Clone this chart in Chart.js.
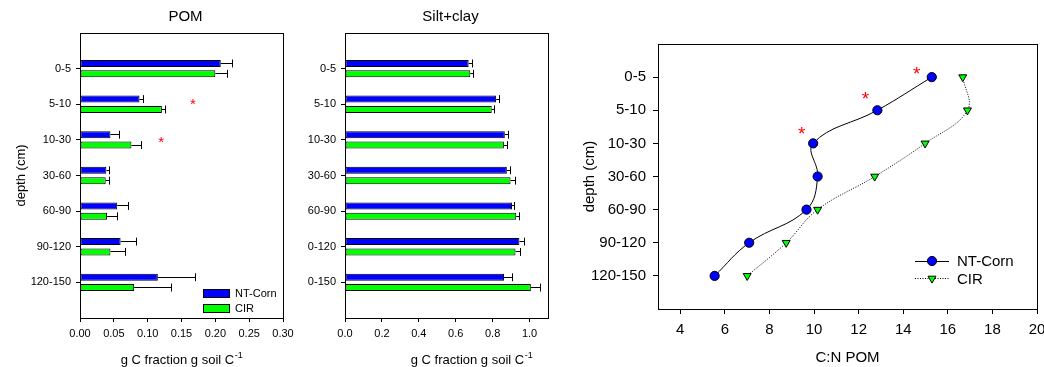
<!DOCTYPE html>
<html>
<head>
<meta charset="utf-8">
<script src="https://cdn.jsdelivr.net/npm/chart.js@4.4.1/dist/chart.umd.min.js"></script>
<style>
  html, body { margin: 0; padding: 0; background: #fff; overflow: hidden; }
  body { width: 1044px; height: 367px; position: relative; }
  canvas { position: absolute; top: 0; }
  #pom { left: 0; }
  #silt { left: 300px; }
  #cn { left: 560px; }
</style>
</head>
<body>
<canvas id="pom" width="300" height="367"></canvas>
<canvas id="silt" width="260" height="367"></canvas>
<canvas id="cn" width="500" height="367"></canvas>
<script>
// depth classes (silt panel labels are printed truncated in the original)
const depths = ["0-5", "5-10", "10-30", "30-60", "60-90", "90-120", "120-150"];
const siltDepths = ["0-5", "5-10", "10-30", "30-60", "60-90", "0-120", "0-150"];

// POM fraction
const pomNT = [0.208, 0.088, 0.045, 0.039, 0.055, 0.060, 0.115];
const pomNTErr = [0.017, 0.006, 0.014, 0.005, 0.016, 0.023, 0.055];
const pomCIR = [0.200, 0.121, 0.076, 0.038, 0.040, 0.045, 0.080];
const pomCIRErr = [0.018, 0.005, 0.015, 0.005, 0.016, 0.022, 0.055];
const pomTicks = [0, 0.05, 0.10, 0.15, 0.20, 0.25, 0.30];
const pomStars = [[0.167, 0.93], [0.12, 2.0]];

// silt+clay fraction
const siltNT = [0.670, 0.819, 0.866, 0.877, 0.905, 0.945, 0.862];
const siltNTErr = [0.020, 0.017, 0.018, 0.022, 0.015, 0.028, 0.047];
const siltCIR = [0.679, 0.795, 0.861, 0.897, 0.928, 0.924, 1.007];
const siltCIRErr = [0.020, 0.015, 0.020, 0.028, 0.018, 0.028, 0.050];
const siltTicks = [0, 0.2, 0.4, 0.6, 0.8, 1.0];

// C:N of POM
const cnNT = [15.28, 12.84, 9.96, 10.16, 9.66, 7.09, 5.54];
const cnCIR = [16.67, 16.88, 14.98, 12.72, 10.16, 8.75, 7.00];
const cnTicks = [4, 6, 8, 10, 12, 14, 16, 18, 20];
const cnStars = [[14.6, -0.17], [12.31, 0.58], [9.44, 1.64]];

const BLUE = "#0000ff";
const GREEN = "#00ff00";
const FONT = '"Liberation Sans", Arial, sans-serif';

Chart.defaults.font.family = FONT;
Chart.defaults.color = "#000";

const pad = (arr) => [null, ...arr, null];
const align = (p) => Math.round(p - 0.5) + 0.5;

function drawStar(ctx, x, y, size) {
  ctx.font = `${size}px ${FONT}`;
  ctx.fillStyle = "#ff0000";
  ctx.textAlign = "center";
  ctx.textBaseline = "alphabetic";
  ctx.fillText("*", x, y + size * 0.46);
}

const deco = {
  id: "deco",
  afterDatasetsDraw(chart, args, o) {
    if (!o.errors) return;
    const ctx = chart.ctx;
    const xs = chart.scales.x;
    ctx.save();
    ctx.strokeStyle = "#000";
    ctx.lineWidth = 1;
    o.errors.forEach((errs, i) => {
      const ds = chart.data.datasets[i];
      chart.getDatasetMeta(i).data.forEach((bar, j) => {
        const v = ds.data[j];
        const e = errs[j];
        if (v == null || e == null) return;
        const { x, y, height } = bar.getProps(["x", "y", "height"], true);
        const xe = align(xs.getPixelForValue(v + e));
        const ym = align(y);
        ctx.beginPath();
        ctx.moveTo(x, ym);
        ctx.lineTo(xe, ym);
        ctx.moveTo(xe, y - height / 2 - 0.5);
        ctx.lineTo(xe, y + height / 2 + 0.5);
        ctx.stroke();
      });
    });
    ctx.restore();
  },
  afterDraw(chart, args, o) {
    const { ctx, chartArea: a } = chart;
    ctx.save();
    ctx.strokeStyle = "#000";
    ctx.lineWidth = 1;
    const l = align(a.left), r = align(a.right), t = align(a.top), b = align(a.bottom);
    ctx.strokeRect(l, t, r - l, b - t);

    ctx.fillStyle = "#000";
    if (o.title) {
      ctx.font = `15px ${FONT}`;
      ctx.textAlign = "center";
      ctx.textBaseline = "middle";
      ctx.fillText(o.title.text, (a.left + a.right) / 2 + o.title.dx, o.title.y);
    }

    if (o.xTitle) {
      const t0 = o.xTitle;
      ctx.font = `13px ${FONT}`;
      const w1 = ctx.measureText(t0.text).width;
      ctx.font = `9px ${FONT}`;
      const w2 = ctx.measureText(t0.sup).width;
      const x0 = (a.left + a.right) / 2 + t0.dx - (w1 + w2) / 2;
      ctx.textAlign = "left";
      ctx.textBaseline = "alphabetic";
      ctx.font = `13px ${FONT}`;
      ctx.fillText(t0.text, x0, t0.y);
      ctx.font = `9px ${FONT}`;
      ctx.fillText(t0.sup, x0 + w1 + 0.5, t0.y - 6);
    }

    if (o.stars) {
      const xs = chart.scales.x, ys = chart.scales.y;
      o.stars.forEach(([sx, sy]) => {
        drawStar(ctx, xs.getPixelForValue(sx), ys.getPixelForValue(sy + o.starShift), o.starSize);
      });
    }

    if (o.legend) {
      const lg = o.legend;
      ctx.font = `${lg.size}px ${FONT}`;
      ctx.textAlign = "left";
      ctx.textBaseline = "middle";
      chart.data.datasets.forEach((ds, i) => {
        const x = a.right - lg.right;
        const y = a.bottom - lg.bottom + i * lg.step;
        ctx.strokeStyle = "#000";
        ctx.lineWidth = 1;
        if (lg.kind === "box") {
          ctx.fillStyle = ds.backgroundColor;
          ctx.fillRect(x, y, 26, 8);
          ctx.strokeRect(align(x), align(y), 26, 8);
          ctx.fillStyle = "#000";
          ctx.fillText(ds.label, x + 32, y + 4.5);
        } else {
          ctx.setLineDash(ds.borderDash || []);
          ctx.beginPath();
          ctx.moveTo(x, align(y));
          ctx.lineTo(x + 34, align(y));
          ctx.stroke();
          ctx.setLineDash([]);
          ctx.fillStyle = ds.pointBackgroundColor;
          Chart.helpers.drawPoint(ctx, {
            pointStyle: ds.pointStyle,
            rotation: ds.pointRotation || 0,
            radius: ds.pointRadius,
            borderWidth: 1
          }, x + 17, y);
          ctx.fillStyle = "#000";
          ctx.fillText(ds.label, x + 42, y + 1);
        }
      });
    }
    ctx.restore();
  }
};

function barChart(id, o) {
  const barStyle = {
    borderColor: "#000",
    borderWidth: 1,
    borderSkipped: false,
    categoryPercentage: 0.58,
    barPercentage: 0.67
  };
  return new Chart(document.getElementById(id), {
    type: "bar",
    data: {
      labels: ["", ...o.labels, ""],
      datasets: [
        { label: "NT-Corn", data: pad(o.nt), backgroundColor: BLUE, ...barStyle },
        { label: "CIR", data: pad(o.cir), backgroundColor: GREEN, ...barStyle }
      ]
    },
    options: {
      indexAxis: "y",
      responsive: false,
      animation: false,
      events: [],
      layout: { padding: { top: 33, right: o.padRight, bottom: 0, left: 0 } },
      plugins: {
        legend: { display: false },
        tooltip: { enabled: false },
        deco: {
          errors: [pad(o.ntErr), pad(o.cirErr)],
          title: { text: o.title, dx: 4, y: 17 },
          xTitle: { text: "g C fraction g soil C", sup: "-1", dx: o.xTitleDx, y: 364 },
          stars: o.stars,
          starShift: 1,
          starSize: 15,
          legend: o.legend
        }
      },
      scales: {
        x: {
          type: "linear",
          min: 0,
          max: o.max,
          afterBuildTicks: (s) => { s.ticks = o.ticks.map((v) => ({ value: v })); },
          afterFit: (s) => { s.height = 49; },
          ticks: { callback: (v) => v.toFixed(o.dec), font: { size: 11 }, color: "#000", padding: 5, maxRotation: 0, autoSkip: false },
          grid: { drawOnChartArea: false, tickLength: 4, color: "#000" },
          border: { display: false }
        },
        y: {
          type: "category",
          offset: false,
          afterFit: (s) => { s.width = o.yWidth; },
          ticks: { font: { size: 11 }, color: "#000", padding: 5, autoSkip: false },
          grid: {
            offset: false,
            drawOnChartArea: false,
            tickLength: 4,
            color: "#000",
            tickColor: (c) => (c.index === 0 || c.index === o.labels.length + 1 ? "rgba(0,0,0,0)" : "#000")
          },
          border: { display: false },
          title: { display: o.yTitle, text: "depth (cm)", font: { size: 13 }, color: "#000", padding: { top: 14, bottom: 0 } }
        }
      }
    },
    plugins: [deco]
  });
}

barChart("pom", {
  labels: depths, nt: pomNT, ntErr: pomNTErr, cir: pomCIR, cirErr: pomCIRErr,
  ticks: pomTicks, max: 0.30, dec: 2, title: "POM", yTitle: true, yWidth: 80, padRight: 17,
  xTitleDx: 0, stars: pomStars,
  legend: { kind: "box", size: 11, right: 80, bottom: 29, step: 15 }
});

barChart("silt", {
  labels: siltDepths, nt: siltNT, ntErr: siltNTErr, cir: siltCIR, cirErr: siltCIRErr,
  ticks: siltTicks, max: 1.1, dec: 1, title: "Silt+clay", yTitle: false, yWidth: 45, padRight: 12,
  xTitleDx: 25, stars: null, legend: null
});

new Chart(document.getElementById("cn"), {
  type: "scatter",
  data: {
    datasets: [
      {
        label: "NT-Corn",
        data: cnNT.map((x, i) => ({ x, y: i })),
        showLine: true,
        borderColor: "#000",
        borderWidth: 1,
        tension: 0.4,
        pointStyle: "circle",
        pointRadius: 4.6,
        pointBackgroundColor: BLUE,
        pointBorderColor: "#000",
        pointBorderWidth: 1
      },
      {
        label: "CIR",
        data: cnCIR.map((x, i) => ({ x, y: i })),
        showLine: true,
        borderColor: "#000",
        borderWidth: 1,
        borderDash: [1, 1.5],
        tension: 0.4,
        pointStyle: "triangle",
        pointRotation: 180,
        pointRadius: 4.6,
        pointBackgroundColor: GREEN,
        pointBorderColor: "#000",
        pointBorderWidth: 1
      }
    ]
  },
  options: {
    responsive: false,
    animation: false,
    events: [],
    layout: { padding: { top: 44, right: 23, bottom: 0, left: 0 } },
    plugins: {
      legend: { display: false },
      tooltip: { enabled: false },
      deco: {
        stars: cnStars,
        starShift: 0,
        starSize: 19,
        legend: { kind: "line", size: 15, right: 122, bottom: 48, step: 17.5 }
      }
    },
    scales: {
      x: {
        type: "linear",
        min: 3,
        max: 20,
        afterBuildTicks: (s) => { s.ticks = cnTicks.map((v) => ({ value: v })); },
        afterFit: (s) => { s.height = 58; },
        ticks: { font: { size: 15 }, color: "#000", padding: 7, maxRotation: 0, autoSkip: false },
        grid: { drawOnChartArea: false, tickLength: 5, color: "#000" },
        border: { display: false },
        title: { display: true, text: "C:N POM", font: { size: 15 }, color: "#000", padding: { top: 0, bottom: 0 } }
      },
      y: {
        type: "linear",
        reverse: true,
        min: -1,
        max: 7,
        afterBuildTicks: (s) => { s.ticks = depths.map((d, i) => ({ value: i })); },
        afterFit: (s) => { s.width = 98; },
        ticks: { callback: (v) => depths[v], font: { size: 15 }, color: "#000", padding: 7, autoSkip: false },
        grid: { drawOnChartArea: false, tickLength: 5, color: "#000" },
        border: { display: false },
        title: { display: true, text: "depth (cm)", font: { size: 15 }, color: "#000", padding: { top: 21, bottom: 0 } }
      }
    }
  },
  plugins: [deco]
});
</script>
</body>
</html>
